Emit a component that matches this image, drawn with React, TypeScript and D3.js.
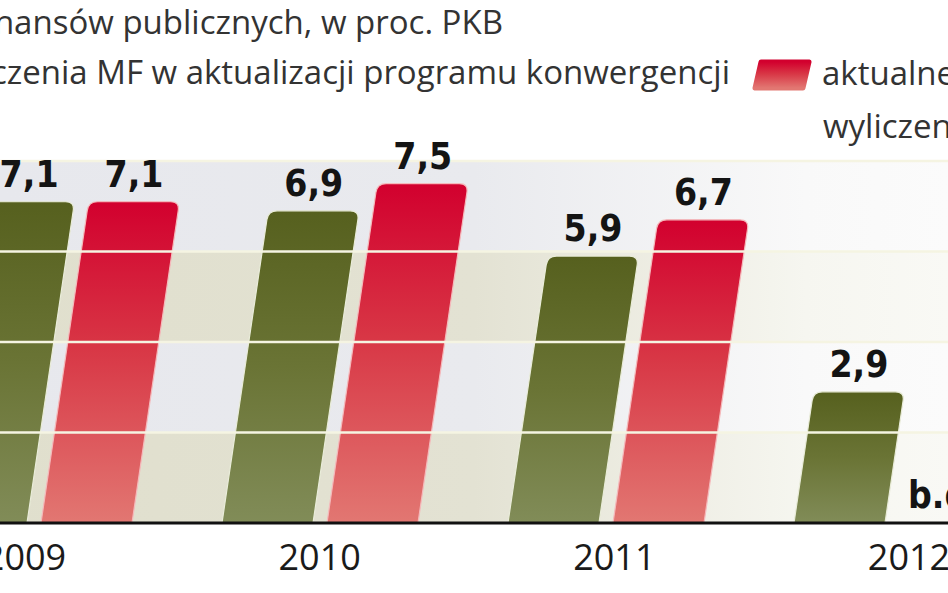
import React from 'react';
import * as d3 from 'd3';

// deficyt sektora finansów publicznych, w proc. PKB
const years = ['2009', '2010', '2011', '2012'];
const mfProgram = [7.1, 6.9, 5.9, 2.9]; // wyliczenia MF w aktualizacji programu konwergencji
const current: (number | null)[] = [7.1, 7.5, 6.7, null]; // aktualne wyliczenia
const yTicks = [0, 2, 4, 6, 8];
const titleLines = [
	'Deficyt sektora finansów publicznych, w proc. PKB',
	'wyliczenia MF w aktualizacji programu konwergencji',
];
const legendCurrent = ['aktualne', 'wyliczenia'];
const missingLabel = 'b.d.';

const W = 948;
const H = 593;
const BASE = 523;
const TOP = 161;
const BAR_W = 91;
const PAIR_OFFSET = 105;
const SKEW = 0.148;
const R = 9;

const fmt = (v: number) => d3.format('.1f')(v).replace('.', ',');

// slanted bar with rounded top corners
function barPath(x0: number, yb: number, yt: number, w: number) {
	const h = yb - yt;
	const dx = SKEW * h;
	const len = Math.hypot(dx, h);
	const ux = dx / len;
	const uy = -h / len;
	const r = Math.min(R, h / 2);
	const p = d3.path();
	p.moveTo(x0, yb);
	p.lineTo(x0 + dx - r * ux, yt - r * uy);
	p.quadraticCurveTo(x0 + dx, yt, x0 + dx + r, yt);
	p.lineTo(x0 + w + dx - r, yt);
	p.quadraticCurveTo(x0 + w + dx, yt, x0 + w + dx - r * ux, yt - r * uy);
	p.lineTo(x0 + w, yb);
	p.closePath();
	return p.toString();
}

const App: React.FC = () => {
	const y = d3.scaleLinear().domain([0, 8]).range([BASE, TOP]);
	const xBar = d3.scalePoint<string>().domain(years).range([-64, 794]);
	const xLabel = d3.scalePoint<string>().domain(years).range([25, 909]);

	const bands = d3.pairs(yTicks);
	const series = [
		{ key: 'mf', values: mfProgram, offset: 0, fill: 'url(#gGreen)', stroke: '#e9ecd9' },
		{ key: 'cur', values: current, offset: PAIR_OFFSET, fill: 'url(#gRed)', stroke: '#f5b9bb' },
	];

	const valueFont = {
		fontFamily: "'DejaVu Sans Condensed', 'DejaVu Sans', sans-serif",
		fontWeight: 700,
		fontStretch: 'condensed' as const,
		fontSize: 37,
		fill: '#141414',
	};
	const textFont = { fontFamily: "'Open Sans', sans-serif", fill: '#333333' };

	return (
		<svg
			width={W}
			height={H}
			style={{ position: 'absolute', left: 0, top: 0, display: 'block', background: '#fff' }}
		>
			<defs>
				<linearGradient id="gGreen" x1="0" y1="0" x2="0" y2="1">
					<stop offset="0" stopColor="#56601e" />
					<stop offset="0.5" stopColor="#6a7435" />
					<stop offset="1" stopColor="#818c58" />
				</linearGradient>
				<linearGradient id="gRed" x1="0" y1="0" x2="0" y2="1">
					<stop offset="0" stopColor="#d2002e" />
					<stop offset="0.45" stopColor="#d83645" />
					<stop offset="1" stopColor="#e27772" />
				</linearGradient>
				<linearGradient id="bandGrey" x1="0" y1="0" x2={W} y2="0" gradientUnits="userSpaceOnUse">
					<stop offset="0" stopColor="#e7e8ed" />
					<stop offset="0.5" stopColor="#e9eaee" />
					<stop offset="0.85" stopColor="#f9f9f9" />
					<stop offset="1" stopColor="#fbfbfb" />
				</linearGradient>
				<linearGradient id="bandBeige" x1="0" y1="0" x2={W} y2="0" gradientUnits="userSpaceOnUse">
					<stop offset="0" stopColor="#e0dfcd" />
					<stop offset="0.5" stopColor="#e3e2d3" />
					<stop offset="0.85" stopColor="#f6f6f0" />
					<stop offset="1" stopColor="#f9f9f5" />
				</linearGradient>
			</defs>

			{/* title, cut at the left like the source */}
			<text x={503} y={34} textAnchor="end" fontSize={33} {...textFont}>
				{titleLines[0]}
			</text>
			<text x={730} y={84} textAnchor="end" fontSize={33} {...textFont}>
				{titleLines[1]}
			</text>

			{/* legend: current estimates */}
			<path
				d="M755,88 L803,88 L809,62 L761,62 Z"
				fill="url(#gRed)"
				stroke="url(#gRed)"
				strokeWidth={5}
				strokeLinejoin="round"
			/>
			<text x={822} y={85} fontSize={33} {...textFont}>
				{legendCurrent[0]}
			</text>
			<text x={823} y={138} fontSize={33} {...textFont}>
				{legendCurrent[1]}
			</text>

			{/* background bands */}
			{bands.map(([a, b], i) => (
				<rect
					key={`band-${a}`}
					x={0}
					y={y(b)}
					width={W}
					height={y(a) - y(b)}
					fill={i % 2 === 0 ? 'url(#bandBeige)' : 'url(#bandGrey)'}
				/>
			))}

			{/* bars */}
			{series.map((s) =>
				s.values.map((v, i) => {
					if (v == null) return null;
					const x0 = (xBar(years[i]) as number) + s.offset;
					return (
						<path
							key={`${s.key}-${i}`}
							d={barPath(x0, y(0), y(v), BAR_W)}
							fill={s.fill}
							stroke={s.stroke}
							strokeWidth={1.2}
						/>
					);
				})
			)}

			{/* gridlines over the bars */}
			{yTicks
				.filter((t) => t > 0)
				.map((t) => (
					<line key={`grid-${t}`} x1={0} x2={W} y1={y(t)} y2={y(t)} stroke="#f5f4e2" strokeWidth={2.5} />
				))}

			{/* value labels */}
			{series.map((s) =>
				s.values.map((v, i) => {
					const x0 = (xBar(years[i]) as number) + s.offset;
					const val = v ?? 0;
					const cx = x0 + BAR_W / 2 + SKEW * (y(0) - y(val));
					return (
						<text
							key={`lab-${s.key}-${i}`}
							x={cx}
							y={y(val) - 15}
							textAnchor="middle"
							{...valueFont}
						>
							{v == null ? missingLabel : fmt(v)}
						</text>
					);
				})
			)}

			{/* baseline */}
			<line x1={0} x2={W} y1={y(0)} y2={y(0)} stroke="#111" strokeWidth={3} />

			{/* year labels */}
			{years.map((yr) => (
				<text
					key={yr}
					x={xLabel(yr)}
					y={570}
					textAnchor="middle"
					fontSize={36}
					{...textFont}
					fill="#1a1a1a"
				>
					{yr}
				</text>
			))}
		</svg>
	);
};

export default App;
